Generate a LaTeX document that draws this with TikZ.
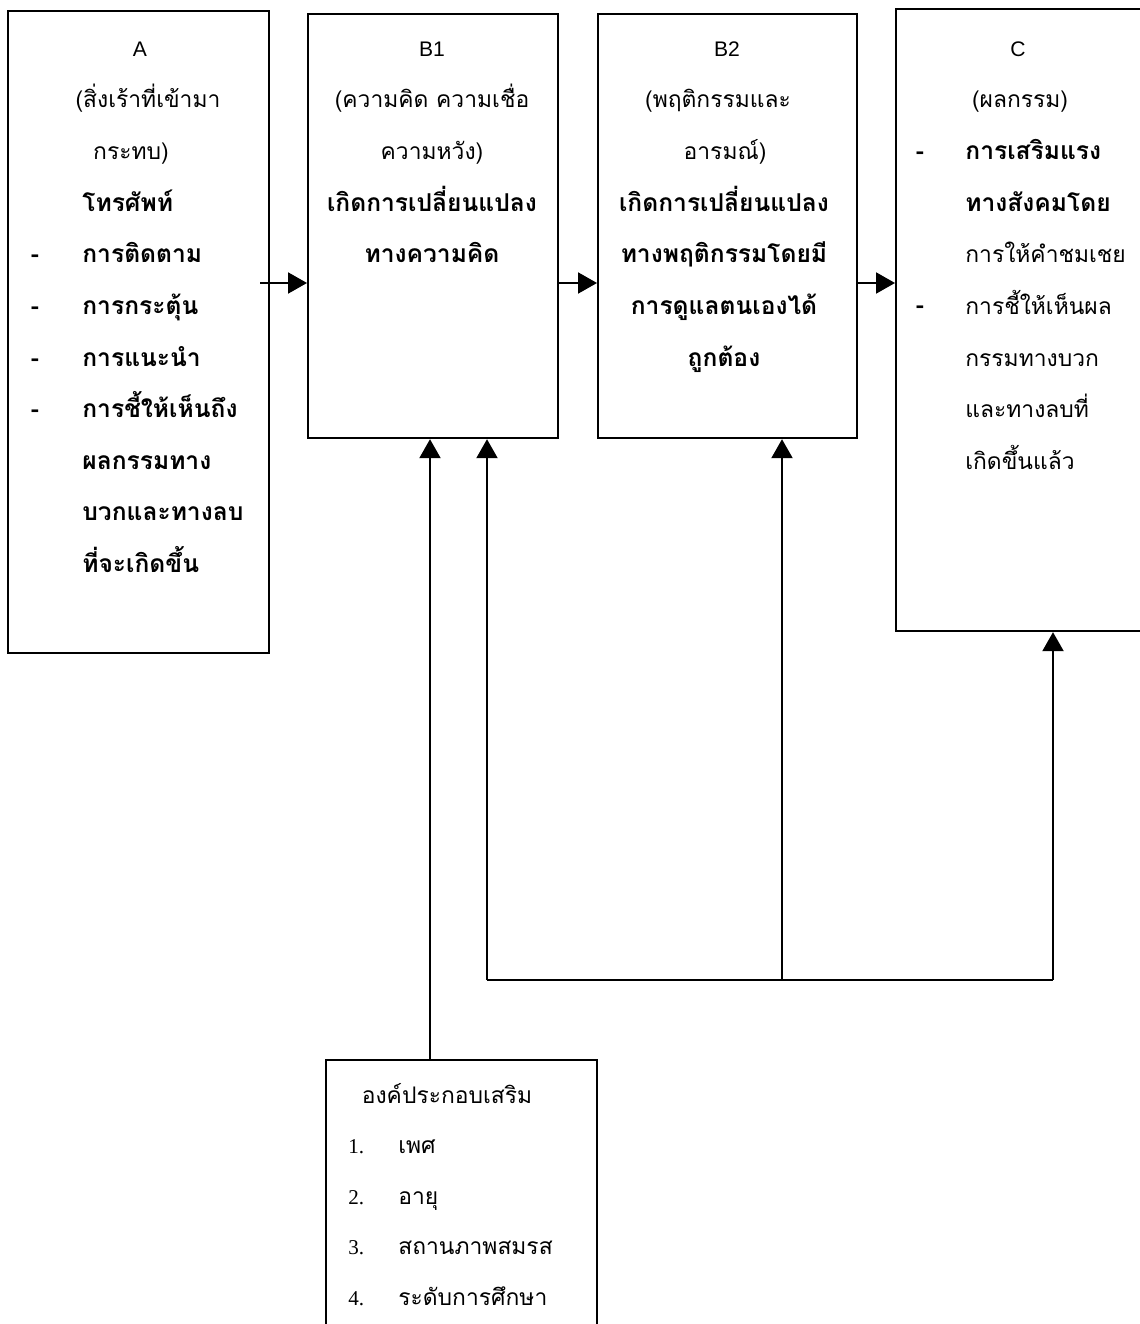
\documentclass[tikz,border=0pt]{standalone}
\usepackage{fontspec}
\setmainfont{Liberation Serif}
\newfontfamily\thaifont[Script=Thai]{Loma}
\newfontfamily\latinsans{Liberation Sans}
\usetikzlibrary{arrows.meta}

\begin{document}
\begin{tikzpicture}[x=0.02cm, y=-0.02cm,
    box/.style={draw, line width=1.3pt, anchor=north west, inner sep=0pt},
    lat/.style={font=\latinsans\fontsize{12}{14}\selectfont, inner sep=0pt, anchor=base},
    th/.style={font=\thaifont\fontsize{13}{15}\selectfont, inner sep=0pt, anchor=base},
    thb/.style={font=\thaifont\bfseries\fontsize{14}{16}\selectfont, inner sep=0pt, anchor=base},
    num/.style={font=\fontsize{12}{14}\selectfont, inner sep=0pt, anchor=base west},
    link/.style={line width=1.2pt, -{Triangle[length=0.38cm,width=0.42cm]}}]
    \useasboundingbox (0,0) rectangle (1139,1324);

    % boxes
    \node[box, minimum width=5.22cm, minimum height=12.84cm] (A) at (7,10) {};
    \node[box, minimum width=5.0cm, minimum height=8.48cm] (B1) at (307,13) {};
    \node[box, minimum width=5.18cm, minimum height=8.48cm] (B2) at (597,13) {};
    \node[box, minimum width=5.0cm, minimum height=12.44cm] (C) at (895,8) {};
    \node[box, minimum width=5.42cm, minimum height=6cm] (D) at (325,1059) {};

    % A
    \node[lat] (a1) at (140,57) {A};
    \node[th] (a2) at (148,108) {(สิ่งเร้าที่เข้ามา};
    \node[th] (a3) at (131,160) {กระทบ)};
    \foreach \t [count=\i from 4] in {โทรศัพท์, การติดตาม, การกระตุ้น, การแนะนำ, การชี้ให้เห็นถึง, ผลกรรมทาง, บวกและทางลบ, ที่จะเกิดขึ้น}
        \node[thb, anchor=base west] (a\i) at (82, {57+51.5*(\i-1)}) {\t};
    \foreach \i in {5,...,8}
        \node[thb] (ad\i) at (35, {57+51.5*(\i-1)}) {-};

    % B1
    \node[lat] (b1) at (432,57) {B1};
    \node[th] (b2) at (432,108) {(ความคิด ความเชื่อ};
    \node[th] (b3) at (432,160) {ความหวัง)};
    \foreach \t [count=\i from 4] in {เกิดการเปลี่ยนแปลง, ทางความคิด}
        \node[thb] (b\i) at (432, {57+51.5*(\i-1)}) {\t};

    % B2
    \node[lat] (c1) at (727,57) {B2};
    \node[th] (c2) at (718,108) {(พฤติกรรมและ};
    \node[th] (c3) at (725,160) {อารมณ์)};
    \foreach \t [count=\i from 4] in {เกิดการเปลี่ยนแปลง, ทางพฤติกรรมโดยมี, การดูแลตนเองได้, ถูกต้อง}
        \node[thb] (c\i) at (724, {57+51.5*(\i-1)}) {\t};

    % C
    \node[lat] (d1) at (1018,57) {C};
    \node[th] (d2) at (1020,108) {(ผลกรรม)};
    \foreach \t [count=\i from 3] in {การเสริมแรง, ทางสังคมโดย}
        \node[thb, anchor=base west] (d\i) at (965, {57+51.5*(\i-1)}) {\t};
    \foreach \t [count=\i from 5] in {การให้คำชมเชย, การชี้ให้เห็นผล, กรรมทางบวก, และทางลบที่, เกิดขึ้นแล้ว}
        \node[th, anchor=base west] (d\i) at (965, {57+51.5*(\i-1)}) {\t};
    \node[thb] (dd3) at (920,160) {-};
    \node[thb] (dd6) at (920,314) {-};

    % D
    \node[th] (e1) at (447,1103) {องค์ประกอบเสริม};
    \foreach \t [count=\i from 2] in {เพศ, อายุ, สถานภาพสมรส, ระดับการศึกษา} {
        \pgfmathtruncatemacro{\n}{\i-1}
        \node[num] (en\i) at (348, {1103+50.5*(\i-1)}) {\n.};
        \node[th, anchor=base west] (e\i) at (398, {1103+50.5*(\i-1)}) {\t};
    }

    % connectors
    \coordinate (aout) at (260,283);
    \draw[link] (aout) -- (aout -| B1.west);
    \draw[link] (B1.east |- aout) -- (B2.west |- aout);
    \draw[link] (B2.east |- aout) -- (C.west |- aout);

    \coordinate (dup) at (430,1059);
    \draw[link] (dup) -- (dup |- B1.south);

    \coordinate (bl) at (487,980);
    \coordinate (bm) at (782,980);
    \coordinate (br) at (1053,980);
    \draw[line width=1.2pt, line cap=square] (bl) -- (br);
    \draw[link] (bl) -- (bl |- B1.south);
    \draw[link] (bm) -- (bm |- B2.south);
    \draw[link] (br) -- (br |- C.south);
\end{tikzpicture}
\end{document}
